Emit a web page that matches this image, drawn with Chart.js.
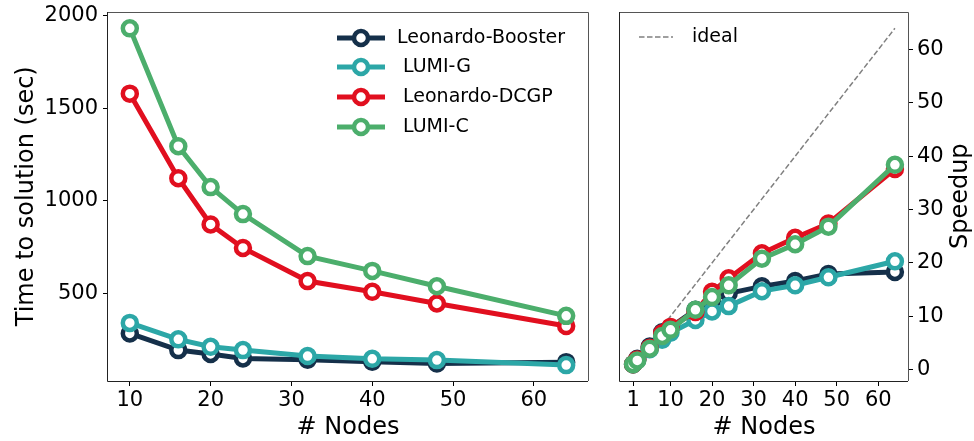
<!DOCTYPE html>
<html>
<head>
<meta charset="utf-8">
<script src="https://cdn.jsdelivr.net/npm/chart.js@4.4.1/dist/chart.umd.min.js"></script>
<style>
  html, body { margin: 0; padding: 0; background: #fff; }
  #wrap { position: relative; width: 974px; height: 441px; }
  canvas { position: absolute; top: 0; }
</style>
</head>
<body>
<div id="wrap">
  <canvas id="timeChart" width="600" height="441" style="left:0"></canvas>
  <canvas id="speedChart" width="374" height="441" style="left:600px"></canvas>
</div>
<script>
// data
const seriesLabels = ["Leonardo-Booster", " LUMI-G", " Leonardo-DCGP", " LUMI-C"];
const seriesColors = ["#15304a", "#2ca7a7", "#e10f1f", "#4cae6c"];

const timeNodes = [10, 16, 20, 24, 32, 40, 48, 64];
const timeBooster = [282, 192, 171, 147, 140, 129, 120, 127];
const timeLumiG = [339, 250, 210, 192, 160, 145, 138, 111];
const timeDcgp = [1578, 1121, 871, 744, 565, 507, 444, 322];
const timeLumiC = [1931, 1294, 1073, 927, 700, 620, 537, 377];

const speedNodes = [1, 2, 5, 8, 10, 16, 20, 24, 32, 40, 48, 64];
const speedBooster = [1, 2.0, 4.3, 7.0, 7.9, 11.2, 13.0, 14.3, 15.6, 16.6, 17.9, 18.3];
const speedLumiG = [1, 1.8, 3.8, 5.6, 6.9, 9.3, 10.9, 11.9, 14.7, 15.8, 17.3, 20.3];
const speedDcgp = [1, 1.9, 4.1, 6.8, 8.0, 10.8, 14.6, 17.1, 21.8, 24.7, 27.4, 37.6];
const speedLumiC = [1, 1.7, 3.9, 6.3, 7.45, 11.2, 13.6, 15.8, 20.8, 23.5, 26.8, 38.4];

const idealNodes = [1, 64];
const idealSpeedup = [1, 64];

const timeXTicks = [10, 20, 30, 40, 50, 60];
const timeYTicks = [500, 1000, 1500, 2000];
const speedXTicks = [1, 10, 20, 30, 40, 50, 60];
const speedYTicks = [0, 10, 20, 30, 40, 50, 60];

Chart.defaults.font.family = "'DejaVu Sans', sans-serif";
Chart.defaults.color = "#000";

const pts = (xs, ys) => xs.map((x, i) => ({ x: x, y: ys[i] }));
const setTicks = (arr) => (scale) => { scale.ticks = arr.map(v => ({ value: v })); };
const plain = (v) => String(v);
const fitX = (s) => { s.height = 60; s.paddingLeft = 0; s.paddingRight = 0; };
const fitY = (w) => (s) => { s.width = w; s.paddingTop = 0; s.paddingBottom = 0; };

function lineSet(label, color, xs, ys, order) {
  return {
    label: label,
    data: pts(xs, ys),
    borderColor: color,
    borderWidth: 5,
    pointRadius: 7,
    pointBorderWidth: 4.5,
    pointBackgroundColor: "#fff",
    pointBorderColor: color,
    order: order
  };
}

const tickGrid = { display: true, drawOnChartArea: false, drawTicks: true, tickLength: 5, tickColor: "#000", lineWidth: 1 };

// matplotlib style frame
const framePlugin = {
  id: "frame",
  afterDraw(chart) {
    const { ctx, chartArea: a } = chart;
    ctx.save();
    ctx.lineWidth = 1;
    ctx.strokeStyle = "#222";
    ctx.beginPath();
    ctx.moveTo(Math.round(a.left) - 0.5, Math.round(a.top));
    ctx.lineTo(Math.round(a.left) - 0.5, Math.round(a.bottom) + 0.5);
    ctx.lineTo(Math.round(a.right), Math.round(a.bottom) + 0.5);
    ctx.stroke();
    ctx.strokeStyle = "#555";
    ctx.beginPath();
    ctx.moveTo(Math.round(a.left), Math.round(a.top) + 0.5);
    ctx.lineTo(Math.round(a.right) + 0.5, Math.round(a.top) + 0.5);
    ctx.lineTo(Math.round(a.right) + 0.5, Math.round(a.bottom));
    ctx.stroke();
    ctx.restore();
  }
};

const timeLegend = {
  id: "timeLegend",
  afterDraw(chart) {
    const ctx = chart.ctx;
    const rows = [38, 67, 97, 127];
    ctx.save();
    ctx.font = "19px 'DejaVu Sans'";
    ctx.textBaseline = "middle";
    seriesLabels.forEach((lab, i) => {
      const y = rows[i];
      ctx.strokeStyle = seriesColors[i];
      ctx.lineWidth = 5;
      ctx.beginPath();
      ctx.moveTo(337, y);
      ctx.lineTo(385, y);
      ctx.stroke();
      ctx.beginPath();
      ctx.arc(361, y, 7, 0, Math.PI * 2);
      ctx.fillStyle = "#fff";
      ctx.fill();
      ctx.lineWidth = 4.5;
      ctx.stroke();
      ctx.fillStyle = "#000";
      ctx.fillText(lab, 397, y);
    });
    ctx.restore();
  }
};

const speedLegend = {
  id: "speedLegend",
  afterDraw(chart) {
    const ctx = chart.ctx;
    ctx.save();
    ctx.strokeStyle = "#808080";
    ctx.lineWidth = 1.5;
    ctx.setLineDash([5.5, 2.5]);
    ctx.beginPath();
    ctx.moveTo(39, 37);
    ctx.lineTo(73, 37);
    ctx.stroke();
    ctx.setLineDash([]);
    ctx.font = "19px 'DejaVu Sans'";
    ctx.textBaseline = "middle";
    ctx.fillStyle = "#000";
    ctx.fillText("ideal", 92, 37);
    // right side y label, reading bottom to top like matplotlib
    const a = chart.chartArea;
    ctx.font = "24px 'DejaVu Sans'";
    ctx.textAlign = "center";
    ctx.translate(361, (a.top + a.bottom) / 2);
    ctx.rotate(-Math.PI / 2);
    ctx.fillText("Speedup", 0, 0);
    ctx.restore();
  }
};

new Chart(document.getElementById("timeChart"), {
  type: "line",
  data: {
    datasets: [
      lineSet(seriesLabels[0], seriesColors[0], timeNodes, timeBooster, 4),
      lineSet(seriesLabels[1], seriesColors[1], timeNodes, timeLumiG, 3),
      lineSet(seriesLabels[2], seriesColors[2], timeNodes, timeDcgp, 2),
      lineSet(seriesLabels[3], seriesColors[3], timeNodes, timeLumiC, 1)
    ]
  },
  options: {
    responsive: false,
    animation: false,
    layout: { padding: { left: 0, top: 11, right: 12, bottom: 0 } },
    plugins: { legend: { display: false }, tooltip: { enabled: false } },
    scales: {
      x: {
        type: "linear", min: 7.3, max: 66.7,
        afterBuildTicks: setTicks(timeXTicks),
        afterFit: fitX,
        grid: tickGrid, border: { display: false },
        ticks: { font: { size: 21 }, padding: 2, maxRotation: 0, callback: plain },
        title: { display: true, text: "# Nodes", font: { size: 24, lineHeight: 1.1 }, padding: { top: 0, bottom: 0 } }
      },
      y: {
        type: "linear", min: 25, max: 2022,
        afterBuildTicks: setTicks(timeYTicks),
        afterFit: fitY(108),
        grid: tickGrid, border: { display: false },
        ticks: { font: { size: 21 }, padding: 5, callback: plain },
        title: { display: true, text: "Time to solution (sec)", font: { size: 24, lineHeight: 1.2 }, padding: { top: 12, bottom: 0 } }
      }
    }
  },
  plugins: [framePlugin, timeLegend]
});

new Chart(document.getElementById("speedChart"), {
  type: "line",
  data: {
    datasets: [
      {
        label: "ideal",
        data: pts(idealNodes, idealSpeedup),
        borderColor: "#808080",
        borderWidth: 1.5,
        borderDash: [5.5, 2.5],
        pointRadius: 0,
        order: 5
      },
      lineSet(seriesLabels[0], seriesColors[0], speedNodes, speedBooster, 4),
      lineSet(seriesLabels[1], seriesColors[1], speedNodes, speedLumiG, 3),
      lineSet(seriesLabels[2], seriesColors[2], speedNodes, speedDcgp, 2),
      lineSet(seriesLabels[3], seriesColors[3], speedNodes, speedLumiC, 1)
    ]
  },
  options: {
    responsive: false,
    animation: false,
    layout: { padding: { left: 20, top: 11, right: 0, bottom: 0 } },
    plugins: { legend: { display: false }, tooltip: { enabled: false } },
    scales: {
      x: {
        type: "linear", min: -2.15, max: 67.15,
        afterBuildTicks: setTicks(speedXTicks),
        afterFit: fitX,
        grid: tickGrid, border: { display: false },
        ticks: { font: { size: 21 }, padding: 2, maxRotation: 0, callback: plain },
        title: { display: true, text: "# Nodes", font: { size: 24, lineHeight: 1.1 }, padding: { top: 0, bottom: 0 } }
      },
      y: {
        type: "linear", position: "right", min: -2.15, max: 67.15,
        afterBuildTicks: setTicks(speedYTicks),
        afterFit: fitY(66),
        grid: tickGrid, border: { display: false },
        ticks: { font: { size: 21 }, padding: 4, callback: plain }
      }
    }
  },
  plugins: [framePlugin, speedLegend]
});
</script>
</body>
</html>
